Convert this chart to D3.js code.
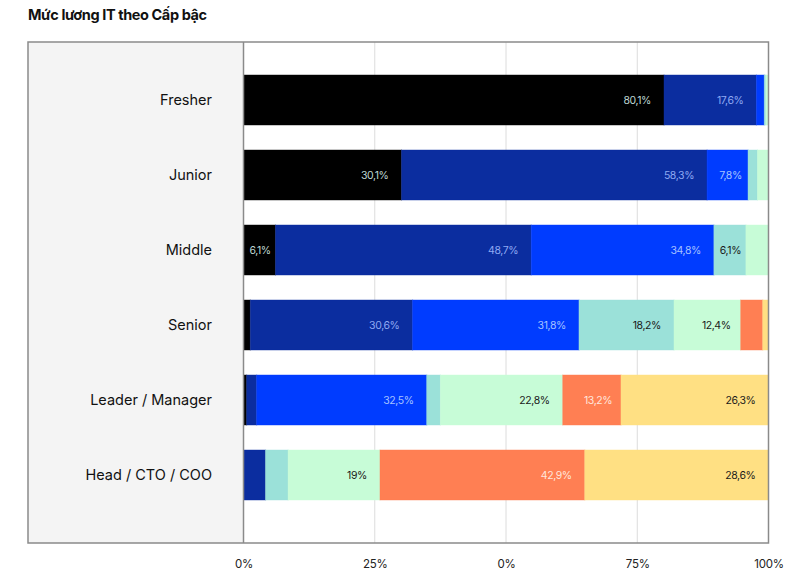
<!DOCTYPE html>
<html>
<head>
<meta charset="utf-8">
<script src="https://cdn.jsdelivr.net/npm/d3@7/dist/d3.min.js"></script>
<style>
  html, body { margin: 0; padding: 0; background: #fff; }
  svg { display: block; font-family: Inter, "Noto Sans", sans-serif; }
</style>
</head>
<body>
<svg id="chart" width="800" height="584"></svg>
<script>
// ---- data ----
const title = "Mức lương IT theo Cấp bậc";
const levels = ["Fresher", "Junior", "Middle", "Senior", "Leader / Manager", "Head / CTO / COO"];
const seriesKeys = ["g1", "g2", "g3", "g4", "g5", "g6", "g7"];
const seriesColors = ["#000000", "#0b2d9f", "#003cff", "#9be1d9", "#c7fcd7", "#ff7f53", "#ffe083"];
const labelColors = ["#bdd6d2", "#8fa9f2", "#a6c2ff", "#1a1a1a", "#1a1a1a", "#ffe6dd", "#1a1a1a"];

const g1 = [80.1, 30.1, 6.1, 1.3, 0.6, 0];
const g2 = [17.6, 58.2, 48.7, 30.9, 1.9, 4.2];
const g3 = [1.5, 7.8, 34.8, 31.7, 32.4, 0];
const g4 = [0.3, 1.8, 6.1, 18.1, 2.6, 4.3];
const g5 = [0.5, 2.1, 4.3, 12.7, 23.3, 17.5];
const g6 = [0, 0, 0, 4.2, 11.1, 39.0];
const g7 = [0, 0, 0, 1.1, 28.1, 35.0];

const l1 = ["80,1%", "30,1%", "6,1%", null, null, null];
const l2 = ["17,6%", "58,3%", "48,7%", "30,6%", null, null];
const l3 = [null, "7,8%", "34,8%", "31,8%", "32,5%", null];
const l4 = [null, null, "6,1%", "18,2%", null, null];
const l5 = [null, null, null, "12,4%", "22,8%", "19%"];
const l6 = [null, null, null, null, "13,2%", "42,9%"];
const l7 = [null, null, null, null, "26,3%", "28,6%"];

const tickValues = [0, 25, 50, 75, 100];
const tickLabels = ["0%", "25%", "0%", "75%", "100%"];

// ---- build table ----
const seriesValues = [g1, g2, g3, g4, g5, g6, g7];
const seriesLabels = [l1, l2, l3, l4, l5, l6, l7];
const rows = levels.map((lv, i) => {
  const r = { level: lv, idx: i };
  seriesKeys.forEach((k, j) => r[k] = seriesValues[j][i]);
  return r;
});

const svg = d3.select("#chart");
const left = 243.5, right = 768.5, frameTop = 42, frameBottom = 543, panelLeft = 28;

const x = d3.scaleLinear().domain([0, 100]).range([left, right]);
const y = d3.scaleBand().domain(levels).range([50, 525]).padding(1 / 3);

// title
svg.append("text")
  .attr("x", 28).attr("y", 20)
  .attr("font-size", 14.5).attr("font-weight", 700)
  .attr("letter-spacing", -0.4)
  .attr("fill", "#111")
  .text(title);

// left panel
svg.append("rect")
  .attr("x", panelLeft).attr("y", frameTop)
  .attr("width", left - panelLeft).attr("height", frameBottom - frameTop)
  .attr("fill", "#f4f4f4");

// gridlines
svg.append("g").selectAll("line")
  .data(tickValues.slice(1, -1))
  .join("line")
  .attr("x1", d => x(d)).attr("x2", d => x(d))
  .attr("y1", frameTop).attr("y2", frameBottom)
  .attr("stroke", "#dcdcdc").attr("stroke-width", 1);

// stacked bars
const stack = d3.stack().keys(seriesKeys);
const stacked = stack(rows);

const barG = svg.append("g");
stacked.forEach((layer, j) => {
  barG.append("g").selectAll("rect")
    .data(layer.filter(d => d[1] - d[0] > 0))
    .join("rect")
    .attr("x", d => x(d[0]))
    .attr("y", d => y(d.data.level))
    .attr("width", d => x(d[1]) - x(d[0]))
    .attr("height", y.bandwidth())
    .attr("fill", seriesColors[j])
    .attr("stroke", seriesColors[j])
    .attr("stroke-opacity", 0.45)
    .attr("stroke-width", 1);
});

// segment labels
const labG = svg.append("g");
stacked.forEach((layer, j) => {
  layer.forEach((d, i) => {
    const txt = seriesLabels[j][i];
    if (!txt) return;
    const x0 = x(d[0]), x1 = x(d[1]);
    const w = x1 - x0;
    const gap = Math.min(13, w * 0.15);
    labG.append("text")
      .attr("x", x1 - gap)
      .attr("y", y(d.data.level) + y.bandwidth() / 2)
      .attr("dy", "0.35em")
      .attr("text-anchor", "end")
      .attr("font-size", 10.5)
      .attr("letter-spacing", -0.4)
      .attr("fill", labelColors[j])
      .text(txt);
  });
});

// frame
svg.append("rect")
  .attr("x", panelLeft).attr("y", frameTop)
  .attr("width", right - panelLeft).attr("height", frameBottom - frameTop)
  .attr("fill", "none").attr("stroke", "#8a8a8a").attr("stroke-width", 1.5);
svg.append("line")
  .attr("x1", left).attr("x2", left)
  .attr("y1", frameTop).attr("y2", frameBottom)
  .attr("stroke", "#8a8a8a").attr("stroke-width", 1.5);

// category labels
svg.append("g").selectAll("text")
  .data(levels)
  .join("text")
  .attr("x", 212)
  .attr("y", d => y(d) + y.bandwidth() / 2)
  .attr("dy", "0.35em")
  .attr("text-anchor", "end")
  .attr("font-size", 14.5)
  .attr("fill", "#111")
  .text(d => d);

// x axis labels
const axis = d3.axisBottom(x)
  .tickValues(tickValues)
  .tickFormat((d, i) => tickLabels[i])
  .tickSize(0)
  .tickPadding(0);
const axG = svg.append("g")
  .attr("transform", `translate(0, ${560})`)
  .call(axis);
axG.select(".domain").remove();
axG.selectAll("text")
  .attr("font-family", "Inter, 'Noto Sans', sans-serif")
  .attr("font-size", 11.5)
  .attr("letter-spacing", -0.3)
  .attr("fill", "#222");
</script>
</body>
</html>
